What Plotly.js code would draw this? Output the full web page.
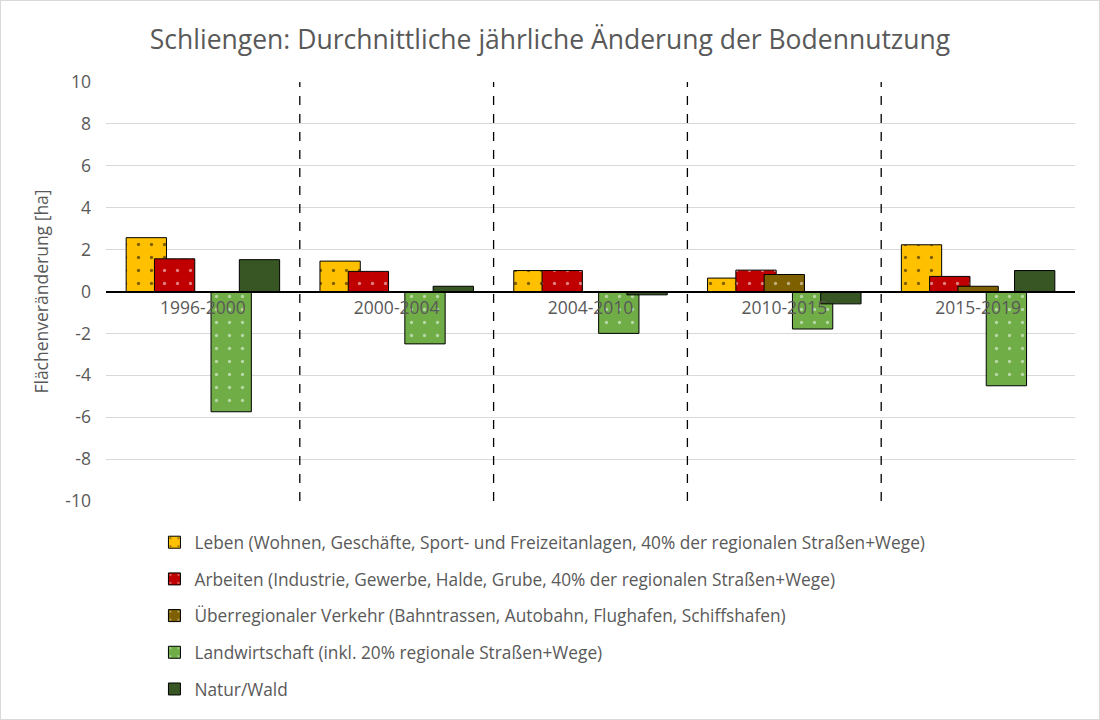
<!DOCTYPE html>
<html>
<head>
<meta charset="utf-8">
<script src="https://cdn.plot.ly/plotly-3.0.1.min.js"></script>
<style>
html,body{margin:0;padding:0;background:#fff;}
#chart{width:1098px;height:718px;border:1px solid #d9d9d9;}
</style>
</head>
<body>
<div id="chart"></div>
<script>
const periods = ["1996-2000", "2000-2004", "2004-2010", "2010-2015", "2015-2019"];
const leben = [2.57, 1.45, 1.0, 0.64, 2.23];
const arbeiten = [1.56, 0.96, 1.0, 1.02, 0.72];
const verkehr = [0.0, 0.0, 0.0, 0.81, 0.25];
const landwirtschaft = [-5.74, -2.5, -2.0, -1.79, -4.5];
const natur = [1.52, 0.25, -0.16, -0.59, 1.0];
const seriesNames = [
  "Leben (Wohnen, Geschäfte, Sport- und Freizeitanlagen, 40% der regionalen Straßen+Wege)",
  "Arbeiten (Industrie, Gewerbe, Halde, Grube, 40% der regionalen Straßen+Wege)",
  "Überregionaler Verkehr (Bahntrassen, Autobahn, Flughafen, Schiffshafen)",
  "Landwirtschaft (inkl. 20% regionale Straßen+Wege)",
  "Natur/Wald"
];
const yTicks = [-10, -8, -6, -4, -2, 0, 2, 4, 6, 8, 10];
const gridTicks = [-8, -6, -4, -2, 2, 4, 6, 8];

const colors = ["#FFC000", "#C00000", "#7F6000", "#70AD47", "#375623"];
const dotColors = ["#000000", "#ffffff", "#ffffff", "#ffffff", null];
const values = [leben, arbeiten, verkehr, landwirtschaft, natur];

const barW = 0.208;
const step = 0.146;
const font = "Open Sans, sans-serif";

const traces = values.map((v, i) => {
  const marker = {color: colors[i], line: {color: "#000000", width: 1}};
  if (dotColors[i]) {
    marker.pattern = {shape: ".", fgcolor: dotColors[i], bgcolor: colors[i], size: 13, solidity: 0.05, fillmode: "overlay"};
  }
  return {
    type: "bar",
    name: seriesNames[i],
    x: periods,
    y: v,
    width: barW,
    offset: -2 * step - barW / 2 + i * step,
    marker: marker,
    legendgroup: "g" + i,
    hoverinfo: "y"
  };
});

const shapes = [0.5, 1.5, 2.5, 3.5].map(p => ({
  type: "line", xref: "x", yref: "paper", x0: p, x1: p, y0: 0, y1: 1,
  line: {color: "#000000", width: 1.3, dash: "dash"}
}));

const layout = {
  width: 1098, height: 718,
  paper_bgcolor: "#ffffff", plot_bgcolor: "#ffffff",
  margin: {l: 105, r: 24, t: 81, b: 218, autoexpand: false},
  barmode: "overlay",
  font: {family: font, color: "#595959", size: 17},
  title: {text: "Schliengen: Durchnittliche jährliche Änderung der Bodennutzung", x: 0.5, xanchor: "center", yref: "container", y: 1 - 39 / 718, yanchor: "middle", font: {family: font, size: 26.5, color: "#595959"}},
  xaxis: {
    type: "category", range: [-0.5, 4.5], anchor: "free", position: 0.5,
    showline: true, linecolor: "#000000", linewidth: 2, ticks: "", showgrid: false,
    tickfont: {family: font, size: 17.5, color: "#595959"}, fixedrange: true
  },
  yaxis: {
    range: [-10, 10], tickvals: yTicks, ticktext: yTicks.map(String), showgrid: false, zeroline: false,
    showline: false, ticks: "", tickfont: {family: font, size: 17.5, color: "#595959"}, ticklabelstandoff: 14,
    title: {text: "Flächenveränderung [ha]", font: {family: font, size: 17.5, color: "#595959"}, standoff: 12}
  },
  yaxis2: {
    range: [-10, 10], overlaying: "y", tickvals: gridTicks, showticklabels: false, showgrid: true,
    gridcolor: "#d9d9d9", gridwidth: 1, zeroline: false, ticks: "", layer: "below traces"
  },
  shapes: shapes,
  showlegend: true,
  legend: {
    orientation: "v", x: 0.05, xanchor: "left", y: -0.056, yanchor: "top",
    font: {family: font, size: 17.3, color: "#595959"}, traceorder: "grouped", tracegroupgap: 11.2,
    itemwidth: 30
  }
};

// invisible trace on yaxis2 so its gridlines render
traces.unshift({type: "scatter", x: [periods[0]], y: [0], yaxis: "y2", mode: "markers", marker: {opacity: 0}, showlegend: false, hoverinfo: "skip"});

Plotly.newPlot("chart", traces, layout, {displayModeBar: false, staticPlot: true});
</script>
</body>
</html>
